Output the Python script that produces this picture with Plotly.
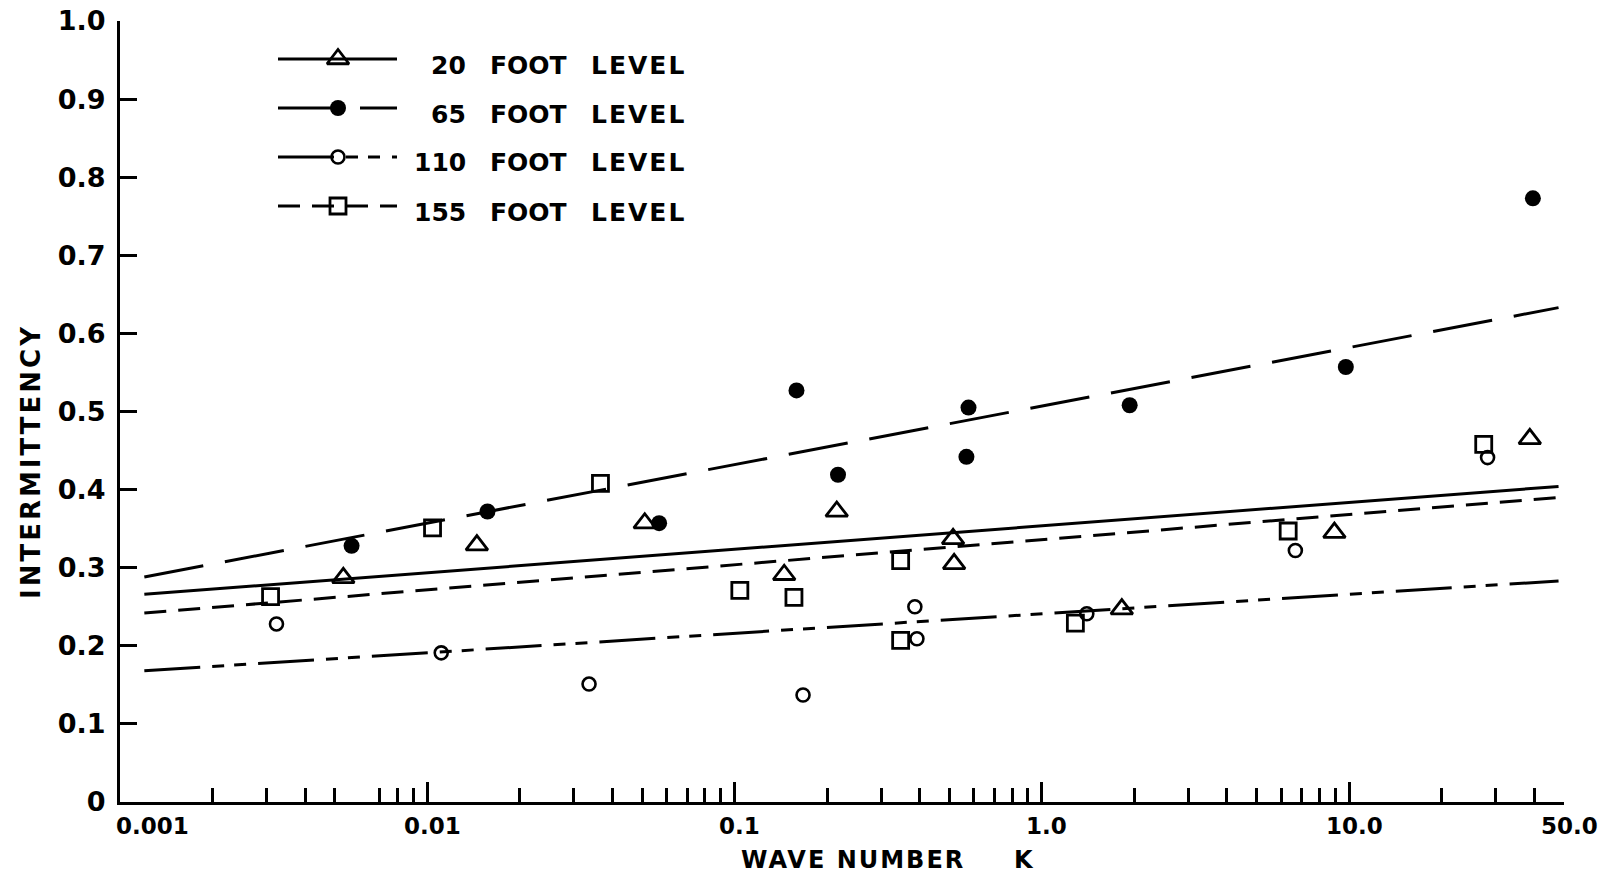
import math
import plotly.graph_objects as go

# Wave number K and measured intermittency at each tower level
k_20 = [0.00533, 0.0145, 0.0510, 0.145, 0.215, 0.514, 0.518, 1.82, 8.95, 38.7]
i_20 = [0.287, 0.329, 0.357, 0.291, 0.372, 0.337, 0.305, 0.247, 0.345, 0.465]

k_65 = [0.00567, 0.0157, 0.0568, 0.159, 0.217, 0.577, 0.568, 1.93, 9.75, 39.6]
i_65 = [0.328, 0.372, 0.357, 0.527, 0.419, 0.505, 0.442, 0.508, 0.557, 0.773]

k_110 = [0.00323, 0.0111, 0.0336, 0.167, 0.386, 0.392, 1.40, 6.68, 28.2]
i_110 = [0.228, 0.191, 0.151, 0.137, 0.250, 0.209, 0.241, 0.322, 0.441]

k_155 = [0.00309, 0.0104, 0.0366, 0.104, 0.156, 0.347, 0.347, 1.285, 6.33, 27.4]
i_155 = [0.263, 0.351, 0.408, 0.271, 0.262, 0.309, 0.207, 0.229, 0.347, 0.458]

# Fitted trend lines: intermittency at both ends of the K span
fit_k = [0.0012, 48.0]
fit_20 = [0.266, 0.404]
fit_65 = [0.288, 0.633]
fit_110 = [0.168, 0.283]
fit_155 = [0.242, 0.390]

# Axis ticks and labels
y_ticks = [0, 0.1, 0.2, 0.3, 0.4, 0.5, 0.6, 0.7, 0.8, 0.9, 1.0]
y_tick_text = ["0", "0.1", "0.2", "0.3", "0.4", "0.5", "0.6", "0.7", "0.8", "0.9", "1.0"]
x_major = [0.01, 0.1, 1, 10]
x_minor = [0.002, 0.003, 0.004, 0.005, 0.007, 0.008, 0.009,
           0.02, 0.03, 0.04, 0.05, 0.06, 0.07, 0.08, 0.09,
           0.2, 0.3, 0.4, 0.5, 0.6, 0.7, 0.8, 0.9,
           2, 3, 4, 5, 6, 7, 8, 9,
           20, 30, 40, 50]
x_label_vals = [0.001, 0.01, 0.1, 1, 10, 50]
x_label_text = ["0.001", "0.01", "0.1", "1.0", "10.0", "50.0"]

series_names = ["20", "65", "110", "155"]

FONT = "DejaVu Sans"
INK = "black"

W, H = 1612, 881
ML, MR, MT, MB = 120, 48, 21, 79
PW, PH = W - ML - MR, H - MT - MB


def px(xp):
    """Horizontal page pixel -> paper fraction."""
    return (xp - ML) / PW


def py(yp):
    """Vertical page pixel -> paper fraction."""
    return (H - MB - yp) / PH


series = [
    dict(k=k_20, v=i_20, fit=fit_20, dash="solid",
         marker=dict(symbol="triangle-up-open", size=19, color=INK, line=dict(width=2.8, color=INK))),
    dict(k=k_65, v=i_65, fit=fit_65, dash="60px,22px",
         marker=dict(symbol="circle", size=16, color=INK, line=dict(width=0, color=INK))),
    dict(k=k_110, v=i_110, fit=fit_110, dash="56px,12px,12px,10px,12px,12px",
         marker=dict(symbol="circle-open", size=13, color=INK, line=dict(width=2.6, color=INK))),
    dict(k=k_155, v=i_155, fit=fit_155, dash="22px,12px",
         marker=dict(symbol="square-open", size=16, color=INK, line=dict(width=2.8, color=INK))),
]

fig = go.Figure()

for s in series:
    fig.add_trace(go.Scatter(x=fit_k, y=s["fit"], mode="lines",
                             line=dict(color=INK, width=3, dash=s["dash"]),
                             showlegend=False, hoverinfo="skip"))
for s in series:
    fig.add_trace(go.Scatter(x=s["k"], y=s["v"], mode="markers",
                             marker=s["marker"], showlegend=False))

# Hand-drawn style key, placed on a pixel-scaled overlay axis
key_y = [59, 108, 157, 206]
key_x0, key_x1, key_xm = 278, 397, 338
for s, ky in zip(series, key_y):
    fig.add_trace(go.Scatter(x=[key_x0, key_x1], y=[ky, ky], mode="lines",
                             line=dict(color=INK, width=3, dash=s["dash"]),
                             xaxis="x2", yaxis="y2", showlegend=False, hoverinfo="skip"))
    fig.add_trace(go.Scatter(x=[key_xm], y=[ky], mode="markers", marker=s["marker"],
                             xaxis="x2", yaxis="y2", showlegend=False, hoverinfo="skip"))

key_font = dict(family=FONT, size=25, color=INK, weight="bold")

annotations = []
for name, ky in zip(series_names, key_y):
    ty = ky + 6
    annotations.append(dict(x=px(468), y=py(ty), xref="paper", yref="paper", text=name,
                            showarrow=False, xanchor="right", yanchor="middle", font=key_font))
    annotations.append(dict(x=px(488), y=py(ty), xref="paper", yref="paper", text="FOOT",
                            showarrow=False, xanchor="left", yanchor="middle", font=key_font))
    annotations.append(dict(x=px(589), y=py(ty), xref="paper", yref="paper",
                            text='<span style="letter-spacing:2px">LEVEL</span>', showarrow=False,
                            xanchor="left", yanchor="middle", font=key_font))

# X tick labels below the axis
for v, t in zip(x_label_vals, x_label_text):
    annotations.append(dict(x=math.log10(v), y=0, xref="x", yref="paper", text=t,
                            showarrow=False, xanchor="center", yanchor="middle",
                            yshift=-24, xshift=32 if v == 0.001 else 5,
                            font=dict(family=FONT, size=23, color=INK, weight="bold")))

# Axis titles
title_font = dict(family=FONT, size=24, color=INK, weight="bold")
annotations.append(dict(x=px(853), y=py(860), xref="paper", yref="paper",
                        text='<span style="letter-spacing:2px">WAVE NUMBER</span>',
                        showarrow=False, xanchor="center", yanchor="middle", font=title_font))
annotations.append(dict(x=px(1024), y=py(860), xref="paper", yref="paper", text="K",
                        showarrow=False, xanchor="center", yanchor="middle", font=title_font))
annotations.append(dict(x=px(31), y=py(462), xref="paper", yref="paper",
                        text='<span style="letter-spacing:3px">INTERMITTENCY</span>',
                        showarrow=False, textangle=-90, xanchor="center", yanchor="middle",
                        font=dict(family=FONT, size=26, color=INK, weight="bold")))

fig.update_layout(
    width=W, height=H,
    margin=dict(l=ML, r=MR, t=MT, b=MB, autoexpand=False),
    paper_bgcolor="white", plot_bgcolor="white",
    font=dict(family=FONT, color=INK),
    xaxis=dict(type="log", range=[-3, math.log10(50)], automargin=False,
               showgrid=False, zeroline=False,
               showline=True, linecolor=INK, linewidth=3,
               ticks="inside", tickvals=x_major, ticklen=20, tickwidth=2.5, tickcolor=INK,
               showticklabels=False,
               minor=dict(tickvals=x_minor, ticks="inside", ticklen=14, tickwidth=2.5,
                          tickcolor=INK, showgrid=False)),
    yaxis=dict(range=[0, 1], automargin=False, showgrid=False, zeroline=False,
               showline=True, linecolor=INK, linewidth=3,
               ticks="inside", tickvals=y_ticks, ticktext=y_tick_text,
               ticklen=17, tickwidth=2.5, tickcolor=INK,
               ticklabelstandoff=6,
               tickfont=dict(family=FONT, size=27, color=INK, weight="bold")),
    xaxis2=dict(overlaying="x", range=[ML, W - MR], visible=False, fixedrange=True),
    yaxis2=dict(overlaying="y", range=[H - MB, MT], visible=False, fixedrange=True),
    annotations=annotations,
    showlegend=False,
)

fig.write_html("out.html")
